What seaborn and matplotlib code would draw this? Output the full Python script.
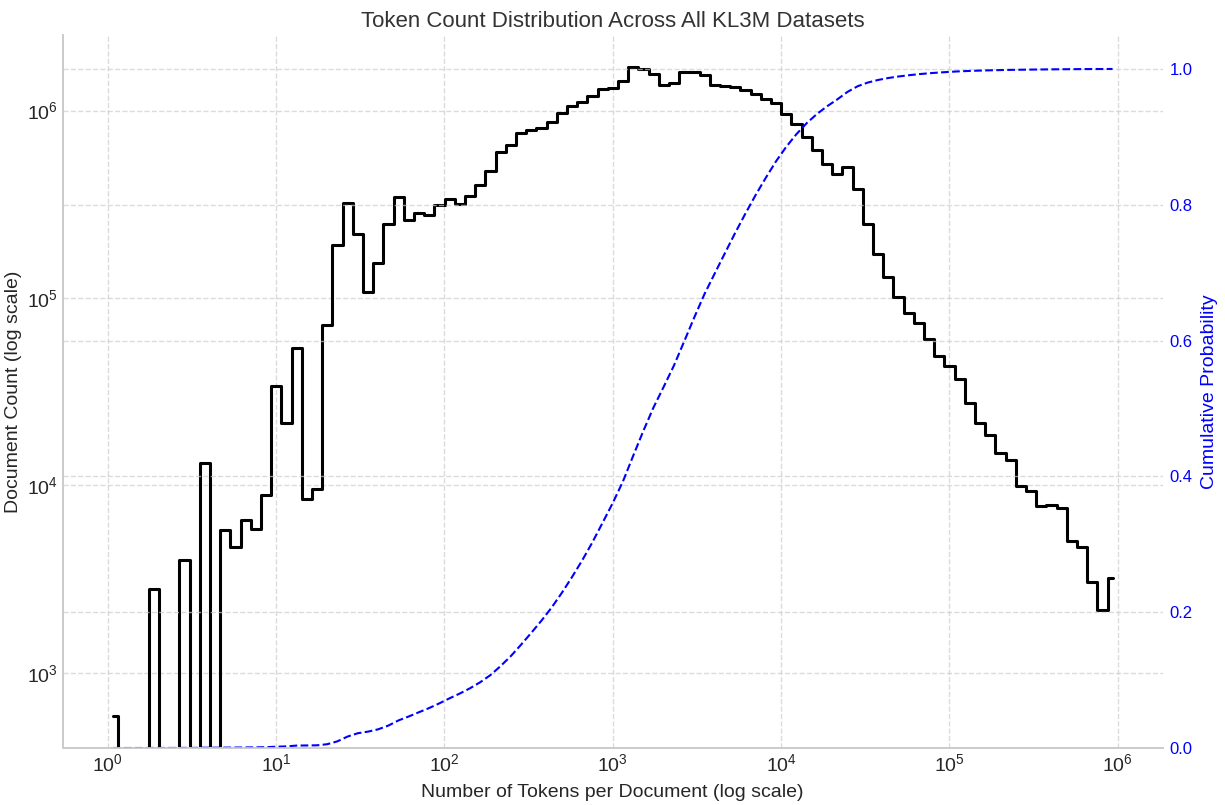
import numpy as np
import pandas as pd
import matplotlib
matplotlib.use("Agg")
import matplotlib.pyplot as plt
import seaborn as sns

# Documents per logarithmic token-count bin (99 bins spanning 10^0 .. 10^6 tokens)
doc_counts = [
    590, 0, 0, 0, 2810, 0, 0, 4010, 0, 13100,
    0, 5800, 4700, 6500, 5850, 8860, 33700, 21500, 54000, 8400,
    9550, 71600, 191000, 320000, 220000, 108000, 154000, 248000, 346000, 261000,
    283000, 277000, 313000, 336000, 316000, 350000, 401000, 474000, 602000, 659000,
    757000, 789000, 812000, 874000, 976000, 1054000, 1111000, 1202000, 1303000, 1319000,
    1436000, 1700000, 1664000, 1567000, 1375000, 1409000, 1600000, 1613000, 1552000, 1365000,
    1352000, 1342000, 1283000, 1231000, 1153000, 1094000, 964000, 845000, 727000, 613000,
    516000, 457000, 499000, 381000, 248000, 171000, 130000, 100700, 82800, 73300,
    60200, 48900, 43500, 37100, 27500, 21600, 18500, 14900, 13650, 9970,
    9270, 7710, 7830, 7530, 5070, 4710, 3050, 2170, 3200,
]

title = "Token Count Distribution Across All KL3M Datasets"
x_label = "Number of Tokens per Document (log scale)"
left_label = "Document Count (log scale)"
right_label = "Cumulative Probability"

# Decade ticks shown on the log axes
x_ticks = [1e0, 1e1, 1e2, 1e3, 1e4, 1e5, 1e6]
y_ticks = [1e3, 1e4, 1e5, 1e6]

# Log-spaced bins and their geometric centres
bin_edges = np.logspace(0, 6, len(doc_counts) + 1)
bin_centers = np.sqrt(bin_edges[:-1] * bin_edges[1:])
counts = np.asarray(doc_counts, dtype=float)
cumulative = np.cumsum(counts) / counts.sum()

hist_df = pd.DataFrame({"tokens": bin_centers, "documents": counts})
cdf_df = pd.DataFrame({"tokens": bin_centers, "cdf": cumulative})

sns.set_theme(style="whitegrid")
plt.rcParams["font.family"] = ["Liberation Sans", "DejaVu Sans"]

fig, ax = plt.subplots(figsize=(12.25, 8.05), dpi=100)
fig.subplots_adjust(left=0.0514, right=0.949, bottom=0.0708, top=0.9565)

sns.lineplot(data=hist_df, x="tokens", y="documents", ax=ax, color="black",
             linewidth=2.2, drawstyle="steps-mid", estimator=None)
ax.set_xscale("log")
ax.set_yscale("log")
ax.set_xticks(x_ticks)
ax.set_yticks(y_ticks)
ax.minorticks_off()

ax.set_xlabel(x_label, fontsize=14, labelpad=7)
ax.set_ylabel(left_label, fontsize=14, labelpad=4)
ax.set_title(title, fontsize=16, color="#333333")
ax.tick_params(labelsize=14, length=0, pad=3.5)
ax.grid(True, linestyle="--", alpha=0.7)

ax2 = ax.twinx()
sns.lineplot(data=cdf_df, x="tokens", y="cdf", ax=ax2, color="blue",
             linestyle="--", linewidth=1.5, estimator=None)
ax2.set_ylim(0, 1.05)
ax2.set_ylabel(right_label, color="blue", fontsize=14, labelpad=6)
ax2.tick_params(axis="y", labelcolor="blue", labelsize=12, length=0, pad=5)
ax2.grid(True, linestyle="--", alpha=0.7)

for a in (ax, ax2):
    a.spines["top"].set_visible(False)
    a.spines["right"].set_visible(False)

fig.savefig("out.png", dpi=100)
